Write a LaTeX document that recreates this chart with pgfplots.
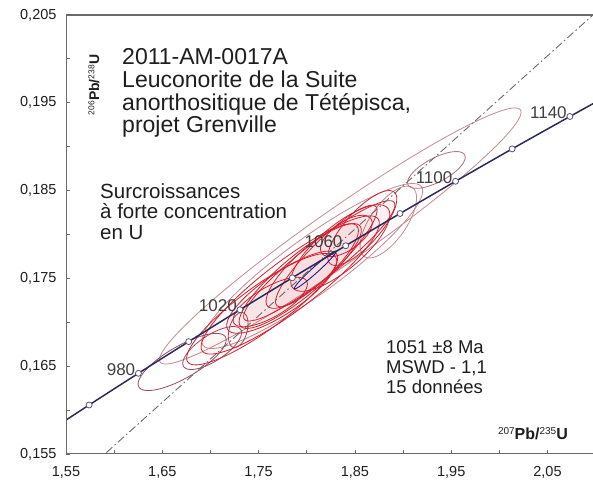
\documentclass[border=0pt]{standalone}
\usepackage{fontspec}
\setmainfont{Liberation Sans}
\usepackage{pgfplots}
\pgfplotsset{compat=1.18}
\definecolor{conc}{HTML}{2B2B58}
\definecolor{ellred}{HTML}{D2202E}
\definecolor{ellbrown}{HTML}{9A4A62}
\definecolor{ellpale}{HTML}{C48A8E}
\definecolor{axgray}{HTML}{6A6A6A}
\definecolor{txt}{HTML}{1E1E1E}
% ellipse: centre (data) #1,#2 ; semi-axes #3,#4 (pt) ; angle #5 (deg) ; style #6
\newcommand{\ellip}[6]{%
  \addplot[#6, domain=0:360, samples=73, smooth]
    ({#1 + (#3*cos(#5)*cos(x) - #4*sin(#5)*sin(x))/963},
     {#2 + (#3*sin(#5)*cos(x) + #4*cos(#5)*sin(x))/8780});
}
\begin{document}
\begin{tikzpicture}
\begin{axis}[name=ax,
  scale only axis, width=527pt, height=439pt,
  xmin=1.55, xmax=2.09725, ymin=0.155, ymax=0.205,
  axis line style={draw=none},
  tick align=inside, xtick pos=left, ytick pos=left,
  xtick={1.55,1.65,1.75,1.85,1.95,2.05},
  ytick={0.155,0.165,0.175,0.185,0.195,0.205},
  minor xtick={1.60,1.70,1.80,1.90,2.00},
  minor ytick={0.160,0.170,0.180,0.190,0.200},
  major tick length=4pt, minor tick length=4pt,
  every tick/.style={axgray, line width=0.8pt},
  /pgf/number format/assume math mode=true,
  xticklabel style={/pgf/number format/.cd, use comma, fixed, fixed zerofill, precision=2, /tikz/.cd,
    font=\fontsize{14.5}{16}\selectfont, text=txt, yshift=-9pt},
  yticklabel style={/pgf/number format/.cd, use comma, fixed, fixed zerofill, precision=3, /tikz/.cd,
    font=\fontsize{14.5}{16}\selectfont, text=txt, xshift=-6pt},
  scaled y ticks=false, scaled x ticks=false,
]
% ---- error ellipses ----
\ellip{1.8348}{0.17983}{220}{27}{35}{ellpale, line width=0.8pt}
\ellip{1.8057}{0.17641}{135}{28}{36}{ellpale, line width=0.8pt}
\ellip{1.8847}{0.18142}{42}{18}{55}{ellpale, line width=0.8pt}
\ellip{1.9346}{0.18735}{32}{12}{28}{ellbrown!80, line width=0.8pt}
\ellip{1.6706}{0.16548}{50}{16}{30}{ellbrown, line width=0.8pt}
\ellip{1.7018}{0.16707}{34}{13}{33}{ellbrown, line width=0.8pt}
\ellip{1.7288}{0.16912}{18}{9}{75}{ellbrown, line width=0.8pt}
\ellip{1.7537}{0.17163}{92}{22}{36}{ellred, line width=0.8pt, fill=ellred, fill opacity=0.02}
\ellip{1.7828}{0.17425}{110}{25}{37}{ellred, line width=0.8pt, fill=ellred, fill opacity=0.02}
\ellip{1.7932}{0.17527}{78}{20}{40}{ellred, line width=0.8pt, fill=ellred, fill opacity=0.02}
\ellip{1.8057}{0.17641}{60}{18}{42}{ellred, line width=0.8pt, fill=ellred, fill opacity=0.02}
\ellip{1.8203}{0.17755}{70}{16}{45}{ellred, line width=0.8pt, fill=ellred, fill opacity=0.02}
\ellip{1.8348}{0.17846}{62}{22}{40}{ellred, line width=0.8pt, fill=ellred, fill opacity=0.02}
\ellip{1.7621}{0.17231}{42}{15}{30}{ellred, line width=0.8pt, fill=ellred, fill opacity=0.02}
\ellip{1.8411}{0.17983}{30}{14}{35}{ellred, line width=0.8pt, fill=ellred, fill opacity=0.02}
\ellip{1.8577}{0.18074}{48}{17}{48}{ellred, line width=0.8pt, fill=ellred, fill opacity=0.02}
\ellip{1.8130}{0.17700}{95}{18}{38}{ellred, line width=0.8pt, fill=ellred, fill opacity=0.02}
\ellip{1.7740}{0.17330}{65}{20}{34}{ellred, line width=0.8pt, fill=ellred, fill opacity=0.02}
\ellip{1.8088}{0.17596}{28}{3}{42}{conc!70!blue, line width=0.9pt}
% ---- regression (dash-dot) line ----
\addplot[axgray, line width=0.9pt, dash pattern=on 8pt off 3pt on 1.5pt off 3pt]
  coordinates {(1.58,0.15398) (2.11,0.20627)};
% ---- concordia ----
\addplot[conc, line width=1.5pt, smooth] coordinates {
  (1.52379,0.156985) (1.57399,0.16058) (1.62519,0.16419) (1.67741,0.16780)
  (1.73067,0.17143) (1.78499,0.17507) (1.84039,0.17872) (1.89689,0.18239)
  (1.95452,0.18606) (2.01328,0.18975) (2.07323,0.19344) (2.13437,0.19715)};
\addplot[only marks, mark=*, mark size=3pt,
  mark options={fill=white, draw=conc!80!white, line width=0.8pt}] coordinates {
  (1.57399,0.16058) (1.62519,0.16419) (1.67741,0.16780)
  (1.73067,0.17143) (1.78499,0.17507) (1.84039,0.17872) (1.89689,0.18239)
  (1.95452,0.18606) (2.01328,0.18975) (2.07323,0.19344)};
\addplot[only marks, mark=none, nodes near coords, point meta=explicit symbolic,
  nodes near coords style={anchor=base east, xshift=-3pt, yshift=-2pt, inner sep=0pt,
    font=\fontsize{17}{18}\selectfont, text=txt!85}] coordinates {
  (1.62519,0.16419)[980] (1.73067,0.17143)[1020] (1.84039,0.17872)[1060]
  (1.95452,0.18606)[1100] (2.07323,0.19344)[1140]};
% ---- frame (left, bottom, top) ----
\draw[axgray, line width=1.2pt] (rel axis cs:1,1) -- (rel axis cs:0,1) -- (rel axis cs:0,0) -- (rel axis cs:1,0);
% ---- texts ----
\node[anchor=north west, inner sep=0pt, align=left, text=txt,
  font=\fontsize{23}{22.7}\selectfont] at (rel axis cs:0.1063,0.9237)
  {2011-AM-0017A\\Leuconorite de la Suite\\anorthositique de Tétépisca,\\projet Grenville};
\node[anchor=north west, inner sep=0pt, align=left, text=txt,
  font=\fontsize{20.5}{20.5}\selectfont] at (rel axis cs:0.0645,0.6173)
  {Surcroissances\\à forte concentration\\en U};
\node[anchor=north west, inner sep=0pt, align=left, text=txt,
  font=\fontsize{18.5}{20}\selectfont] at (rel axis cs:0.6072,0.2597)
  {1051 ±8 Ma\\MSWD - 1,1\\15 données};
\node[anchor=base east, inner sep=0pt, text=txt, font=\fontsize{16}{18}\selectfont]
  at (rel axis cs:0.9526,0.0319)
  {\raisebox{5.5pt}{\fontsize{10}{10}\selectfont 207}\textbf{Pb/}\raisebox{5.5pt}{\fontsize{10}{10}\selectfont 235}\textbf{U}};
\node[rotate=90, inner sep=0pt, text=txt, font=\fontsize{14}{15}\selectfont]
  at (rel axis cs:0.0531,0.8405)
  {\raisebox{4.8pt}{\fontsize{8.5}{9}\selectfont 206}\textbf{Pb/}\raisebox{4.8pt}{\fontsize{8.5}{9}\selectfont 238}\textbf{U}};
\end{axis}
\pgfresetboundingbox
\path[use as bounding box] ([xshift=-66pt,yshift=-31pt]ax.south west) rectangle ([yshift=15pt]ax.north east);
\end{tikzpicture}
\end{document}
